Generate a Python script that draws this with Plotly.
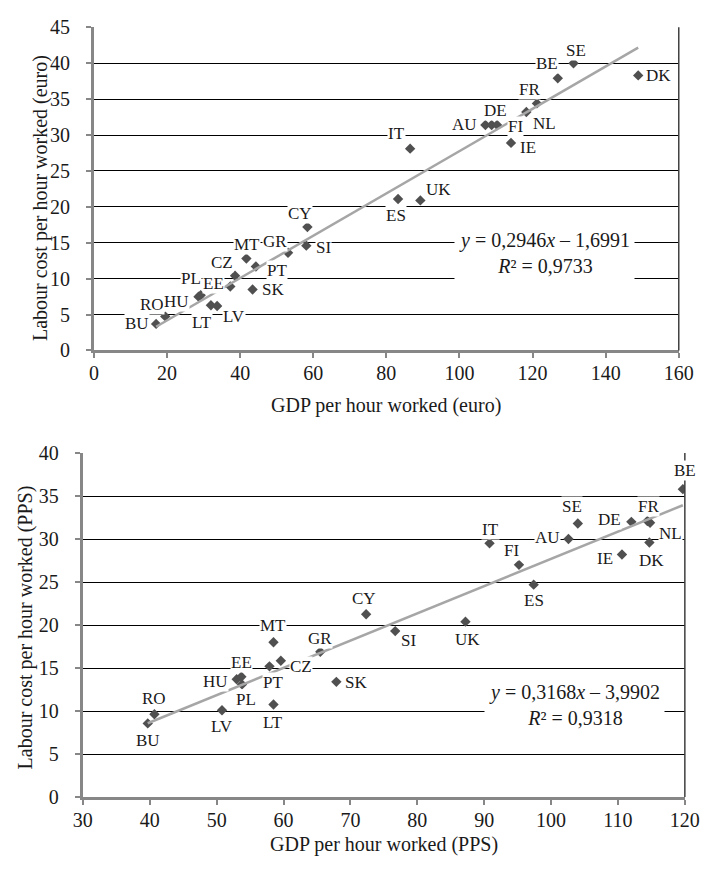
import plotly.graph_objects as go
import numpy as np

# ---------------- data ----------------
countries = ["BU", "RO", "HU", "PL", "LT", "LV", "EE", "CZ", "MT", "PT", "SK", "GR", "SI",
             "CY", "ES", "UK", "IT", "AU", "DE", "FI", "IE", "NL", "FR", "BE", "SE", "DK"]

gdp_euro = [17.0, 19.5, 28.6, 29.2, 32.0, 33.7, 37.3, 38.6, 41.7, 44.3, 43.4, 53.1, 58.1,
            58.4, 83.2, 89.3, 86.5, 107.1, 108.8, 110.3, 114.1, 118.3, 121.2, 126.9, 131.2, 148.9]
lc_euro = [3.7, 4.75, 7.5, 7.7, 6.3, 6.2, 8.9, 10.4, 12.8, 11.7, 8.5, 13.6, 14.6,
           17.2, 21.1, 20.9, 28.1, 31.4, 31.4, 31.4, 28.9, 33.2, 34.4, 37.9, 40.0, 38.3]

gdp_pps = [39.7, 40.7, 53.0, 53.8, 58.5, 50.8, 53.7, 59.6, 58.5, 57.9, 67.9, 65.5, 76.7,
           72.35, 97.4, 87.2, 90.8, 102.6, 112.0, 95.2, 110.6, 114.8, 114.4, 119.7, 104.0, 114.7]
lc_pps = [8.57, 9.63, 13.7, 13.1, 10.76, 10.1, 14.0, 15.85, 18.0, 15.2, 13.4, 16.9, 19.3,
          21.26, 24.7, 20.4, 29.5, 30.0, 32.0, 27.0, 28.2, 31.9, 32.1, 35.8, 31.8, 29.6]

# trend lines (Excel linear fits shown on the chart)
slope_euro, icpt_euro, r2_euro = 0.2946, -1.6991, 0.9733
slope_pps, icpt_pps, r2_pps = 0.3168, -3.9902, 0.9318

# axis tick values
xticks_euro = list(range(0, 161, 20))
yticks_euro = list(range(0, 46, 5))
xticks_pps = list(range(30, 121, 10))
yticks_pps = list(range(0, 41, 5))

# label placement (pixel offsets from point: dx right, dy up)
off_euro = {"BU": (-19, 0), "RO": (-13, 12), "HU": (-22, -5), "PL": (-10, 17), "LT": (-9, -17),
            "LV": (17, -11), "EE": (-17, 3), "CZ": (-13, 13), "MT": (1, 14), "PT": (21, -4),
            "SK": (20, 0), "GR": (-13, 11), "SI": (17, -2), "CY": (-7, 13), "ES": (-2, -17),
            "UK": (18, 11), "IT": (-14, 15), "AU": (-21, 0), "DE": (4, 14), "FI": (18, -2),
            "IE": (17, -5), "NL": (18, -11), "FR": (-7, 14), "BE": (-11, 15), "SE": (2, 13),
            "DK": (20, 0)}
off_pps = {"BU": (0, -17), "RO": (0, 16), "LV": (0, -16), "HU": (-21, -2), "EE": (0, 14),
           "PL": (4, -15), "PT": (4, -16), "MT": (0, 17), "LT": (0, -18), "CZ": (20, -6),
           "GR": (0, 13), "SK": (20, -1), "CY": (-2, 16), "SI": (13, -9), "UK": (2, -18),
           "IT": (1, 14), "FI": (-7, 14), "ES": (0, -16), "AU": (-21, 2), "SE": (-6, 17),
           "IE": (-17, -4), "DE": (-22, 2), "FR": (1, 14), "NL": (20, -11), "DK": (2, -18),
           "BE": (2, 19)}

# ---------------- styling ----------------
FONT = "Liberation Serif, Times New Roman, serif"
TXT = "#1a1a1a"
MARK = "#505050"
TREND = "#a6a6a6"
AXIS = "#878787"

fig = go.Figure()

def add_panel(xs, ys, slope, icpt, xa, ya):
    xs = np.array(xs)
    fig.add_trace(go.Scatter(x=xs, y=ys, mode="markers", xaxis=xa, yaxis=ya,
                             marker=dict(symbol="diamond", size=8, color=MARK),
                             showlegend=False, hoverinfo="x+y"))
    xl = np.array([xs.min(), xs.max()])
    fig.add_trace(go.Scatter(x=xl, y=slope * xl + icpt, mode="lines", xaxis=xa, yaxis=ya,
                             line=dict(color=TREND, width=2.5), showlegend=False,
                             hoverinfo="skip"))

add_panel(gdp_euro, lc_euro, slope_euro, icpt_euro, "x", "y")
add_panel(gdp_pps, lc_pps, slope_pps, icpt_pps, "x2", "y2")

annotations = []
for xs, ys, offs, xr, yr in [(gdp_euro, lc_euro, off_euro, "x", "y"),
                             (gdp_pps, lc_pps, off_pps, "x2", "y2")]:
    for c, xv, yv in zip(countries, xs, ys):
        dx, dy = offs[c]
        annotations.append(dict(x=xv, y=yv, xref=xr, yref=yr, text=c, showarrow=False,
                                xanchor="center", yanchor="middle",
                                xshift=dx, yshift=dy, bgcolor="white", borderpad=0,
                                font=dict(family=FONT, size=17, color=TXT)))

def fmt(v):
    return f"{v:.4f}".replace(".", ",")

annotations.append(dict(x=123.3, y=13.6, xref="x", yref="y", showarrow=False,
                        xanchor="center", yanchor="middle",
                        text=f"<i>y</i> = {fmt(slope_euro)}<i>x</i> – {fmt(-icpt_euro)}<br><i>R</i>² = {fmt(r2_euro)}",
                        bgcolor="white", borderpad=4, font=dict(family=FONT, size=20, color=TXT)))
annotations.append(dict(x=103.5, y=10.7, xref="x2", yref="y2", showarrow=False,
                        xanchor="center", yanchor="middle",
                        text=f"<i>y</i> = {fmt(slope_pps)}<i>x</i> – {fmt(-icpt_pps)}<br><i>R</i>² = {fmt(r2_pps)}",
                        bgcolor="white", borderpad=4, font=dict(family=FONT, size=20, color=TXT)))

# axis titles
title_font = dict(family=FONT, size=20, color=TXT)
annotations += [
    dict(x=390 / 715, y=1 - 405 / 870, xref="paper", yref="paper", showarrow=False,
         xanchor="center", yanchor="middle",
         text="GDP per hour worked (euro)", font=title_font),
    dict(x=31 / 715, y=1 - 192 / 870, xref="paper", yref="paper", showarrow=False, textangle=-90,
         xanchor="center", yanchor="middle",
         text="Labour cost per hour worked (euro)", font=title_font),
    dict(x=387.5 / 715, y=1 - 855 / 870, xref="paper", yref="paper", showarrow=False,
         xanchor="center", yanchor="middle",
         text="GDP per hour worked (PPS)", font=title_font),
    dict(x=16 / 715, y=1 - 632 / 870, xref="paper", yref="paper", showarrow=False, textangle=-90,
         xanchor="center", yanchor="middle",
         text="Labour cost per hour worked (PPS)", font=title_font),
]

def xax(domain, rng, ticks, anchor):
    return dict(domain=domain, range=rng, tickvals=ticks, showgrid=False, zeroline=False,
                showline=True, linecolor=AXIS, linewidth=3, ticks="outside", ticklen=5,
                tickwidth=2, tickcolor=AXIS, ticklabelstandoff=-2, anchor=anchor,
                tickfont=dict(family=FONT, size=20, color=TXT), fixedrange=True)

def yax(domain, rng, ticks, anchor):
    return dict(domain=domain, range=rng, tickvals=ticks, showgrid=True, gridcolor="black",
                gridwidth=1, zeroline=False, showline=True, linecolor=AXIS, linewidth=3,
                ticks="outside", ticklen=5, tickwidth=2, tickcolor=AXIS, ticklabelstandoff=12,
                anchor=anchor, tickfont=dict(family=FONT, size=20, color=TXT), fixedrange=True)

shapes = [
    dict(type="line", xref="x domain", yref="y domain", x0=1, x1=1, y0=0, y1=1,
         line=dict(color="#404040", width=1.5)),
    dict(type="line", xref="x2 domain", yref="y2 domain", x0=1, x1=1, y0=0, y1=1,
         line=dict(color="#404040", width=1.5)),
]

fig.update_layout(
    width=715, height=870, margin=dict(l=0, r=0, t=0, b=0),
    paper_bgcolor="white", plot_bgcolor="white",
    font=dict(family=FONT, color=TXT),
    xaxis=xax([87 / 715, 693 / 715], [0, 160], xticks_euro, "y"),
    yaxis=yax([1 - 348.3 / 870, 1 - 16.7 / 870], [0, 45], yticks_euro, "x"),
    xaxis2=xax([75.5 / 715, 699.3 / 715], [30, 120], xticks_pps, "y2"),
    yaxis2=yax([1 - 806.5 / 870, 1 - 453.5 / 870], [0, 40], yticks_pps, "x2"),
    annotations=annotations, shapes=shapes, showlegend=False,
)

fig.write_html("out.html")
